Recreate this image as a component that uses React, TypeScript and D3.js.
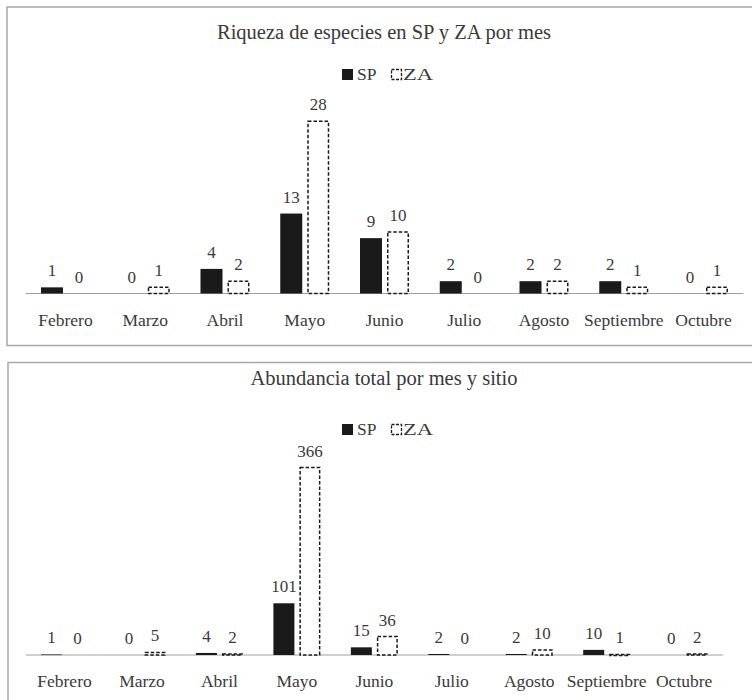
import React from "react";
import * as d3 from "d3";

const months = ["Febrero", "Marzo", "Abril", "Mayo", "Junio", "Julio", "Agosto", "Septiembre", "Octubre"];
const seriesNames = ["SP", "ZA"];
const riquezaSP = [1, 0, 4, 13, 9, 2, 2, 2, 0];
const riquezaZA = [0, 1, 2, 28, 10, 0, 2, 1, 1];
const abundanciaSP = [1, 0, 4, 101, 15, 2, 2, 10, 0];
const abundanciaZA = [0, 5, 2, 366, 36, 0, 10, 1, 2];
const titleTop = "Riqueza de especies en SP y ZA por mes";
const titleBottom = "Abundancia total por mes y sitio";

const FONT = "Liberation Serif";
const TEXT = "#3a3a3a";

type PanelProps = {
  title: string;
  sp: number[];
  za: number[];
  boxX: number;
  boxY: number;
  titleY: number;
  legendY: number;
  axisY: number;
  x0: number;
  x1: number;
  yMax: number;
  yTopPx: number;
  barW: number;
};

function Panel(p: PanelProps) {
  const step = (p.x1 - p.x0) / months.length;
  const groupW = p.barW * 2 + 5;
  const pad = 1 - groupW / step;
  const xBand = d3.scaleBand<string>().domain(months).range([p.x0, p.x1]).paddingInner(pad).paddingOuter(pad / 2);
  const p1 = (groupW - 2 * p.barW) / (groupW - p.barW);
  const xSub = d3.scaleBand<string>().domain(seriesNames).range([0, xBand.bandwidth()]).paddingInner(p1).paddingOuter(0);
  const y = d3.scaleLinear().domain([0, p.yMax]).range([p.axisY, p.yTopPx]);
  const data = [p.sp, p.za];
  const txt = { fontFamily: FONT };

  return (
    <g>
      <rect x={p.boxX} y={p.boxY} width={900} height={p.axisY - p.boxY + 52} fill="white" stroke="#a8a8a8" strokeWidth={1.5} />
      <text x={384} y={p.titleY} textAnchor="middle" style={txt} fontSize={20.5} fill={TEXT}>{p.title}</text>
      <rect x={342} y={p.legendY - 11} width={11} height={11} fill="#1a1a1a" />
      <text x={357} y={p.legendY} style={txt} fontSize={17.5} fill={TEXT}>SP</text>
      <rect x={391.5} y={p.legendY - 10.5} width={10} height={10} fill="white" stroke="#1a1a1a" strokeWidth={1.3} strokeDasharray="3,1.5" />
      <text x={403} y={p.legendY} style={txt} fontSize={17.5} fill={TEXT} textLength={30} lengthAdjust="spacingAndGlyphs">ZA</text>
      <line x1={p.x0} x2={p.x1} y1={p.axisY} y2={p.axisY} stroke="#a0a0a0" strokeWidth={1} />
      {months.map((m, i) => (
        <g key={m}>
          {seriesNames.map((s, j) => {
            const v = data[j][i];
            const bx = (xBand(m) as number) + (xSub(s) as number);
            const by = y(v);
            const h = p.axisY - by;
            return (
              <g key={s}>
                {j === 0 ? (
                  v > 0 && <rect x={bx} y={by} width={xSub.bandwidth()} height={Math.max(h, 0.6)} fill="#1a1a1a" />
                ) : (
                  v > 0 && (
                    <rect x={bx + 0.75} y={by} width={xSub.bandwidth() - 1.5} height={Math.max(h, 1)} fill="white" stroke="#1a1a1a" strokeWidth={1.5} strokeDasharray="3.5,2" />
                  )
                )}
                <text x={bx + xSub.bandwidth() / 2} y={by - 11} textAnchor="middle" style={txt} fontSize={17} fill={TEXT}>{v}</text>
              </g>
            );
          })}
        </g>
      ))}
      {months.map((m) => (
        <text key={m} x={(xBand(m) as number) + xBand.bandwidth() / 2} y={p.axisY + 32} textAnchor="middle" style={txt} fontSize={17.5} fill={TEXT}>{m}</text>
      ))}
    </g>
  );
}

export default function App() {
  return (
    <svg width={752} height={700} style={{ position: "absolute", left: 0, top: 0, background: "white" }}>
      <rect x={0} y={0} width={752} height={700} fill="white" />
      <Panel title={titleTop} sp={riquezaSP} za={riquezaZA} boxX={7} boxY={7} titleY={39} legendY={80} axisY={293.5}
        x0={25.6} x1={743.4} yMax={30} yTopPx={293.5 - 30 * 6.15} barW={22} />
      <Panel title={titleBottom} sp={abundanciaSP} za={abundanciaZA} boxX={8} boxY={362.5} titleY={385} legendY={435} axisY={655}
        x0={25.8} x1={722.9} yMax={400} yTopPx={655 - 400 * 0.512} barW={21} />
    </svg>
  );
}
